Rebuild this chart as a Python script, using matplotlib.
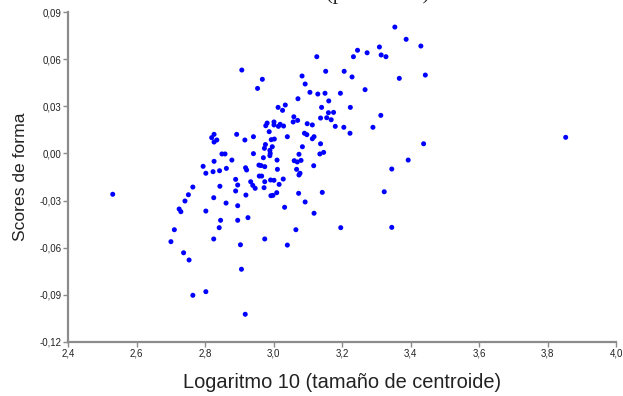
import matplotlib as mpl

mpl.use("Agg")
import matplotlib.pyplot as plt
from matplotlib.ticker import FuncFormatter

# log10 centroid size vs shape score
log_cs = [
    2.530, 2.907, 2.967, 2.953, 3.126, 3.245, 3.233, 3.206, 3.152, 3.083,
    3.229, 3.092, 3.106, 3.129, 3.150, 3.195, 3.071, 3.161, 3.013, 3.034,
    3.026, 3.140, 3.224, 3.160, 3.175, 3.059, 3.137, 3.155, 3.168, 3.070,
    3.057, 2.981, 2.977, 3.001, 3.001, 3.019, 3.014, 3.029, 3.098, 3.113,
    3.180, 3.205, 2.987, 3.090, 3.097, 3.223, 3.118, 3.113, 3.040, 2.993,
    3.002, 2.941, 2.916, 2.892, 2.826, 2.819, 2.834, 2.826, 2.976, 2.973,
    2.996, 2.989, 3.084, 3.137, 3.146, 3.135, 3.074, 2.990, 2.989, 2.941,
    2.849, 2.858, 2.878, 2.970, 3.010, 3.060, 3.069, 3.080, 2.826, 2.794,
    2.957, 2.963, 2.974, 2.918, 2.921, 2.862, 2.842, 2.823, 2.802, 3.011,
    3.067, 3.117, 3.077, 3.074, 2.958, 2.965, 2.889, 3.028, 2.991, 3.001,
    2.933, 2.974, 2.895, 2.843, 2.764, 2.939, 3.016, 2.946, 2.972, 2.889,
    2.751, 2.919, 2.992, 2.998, 3.009, 3.073, 3.142, 2.825, 2.741, 2.724,
    2.729, 2.710, 2.700, 2.737, 2.753, 2.764, 2.802, 2.802, 2.845, 2.841,
    2.825, 2.861, 2.895, 2.895, 2.925, 2.903, 2.906, 2.917, 2.974, 3.032,
    3.040, 3.065, 3.092, 3.118, 3.196, 3.345, 3.323, 3.345, 3.393, 3.354,
    3.387, 3.430, 3.309, 3.314, 3.328, 3.273, 3.443, 3.367, 3.267, 3.313,
    3.290, 3.853, 3.438,
]
shape_score = [
    -0.0260, 0.0532, 0.0473, 0.0415, 0.0617, 0.0658, 0.0617, 0.0524, 0.0524, 0.0494,
    0.0488, 0.0443, 0.0390, 0.0379, 0.0384, 0.0384, 0.0349, 0.0335, 0.0294, 0.0309,
    0.0275, 0.0294, 0.0294, 0.0260, 0.0262, 0.0234, 0.0226, 0.0228, 0.0215, 0.0211,
    0.0201, 0.0194, 0.0177, 0.0201, 0.0182, 0.0186, 0.0173, 0.0175, 0.0190, 0.0182,
    0.0173, 0.0167, 0.0139, 0.0129, 0.0120, 0.0129, 0.0107, 0.0094, 0.0107, 0.0088,
    0.0092, 0.0107, 0.0086, 0.0122, 0.0122, 0.0101, 0.0086, 0.0073, 0.0057, 0.0033,
    0.0043, 0.0020, 0.0043, 0.0062, 0.0007, -0.0003, -0.0005, 0.0001, -0.0014, -0.0001,
    -0.0003, -0.0003, -0.0042, -0.0027, -0.0042, -0.0046, -0.0054, -0.0044, -0.0050, -0.0082,
    -0.0074, -0.0077, -0.0084, -0.0091, -0.0105, -0.0095, -0.0110, -0.0116, -0.0126, -0.0101,
    -0.0101, -0.0078, -0.0126, -0.0137, -0.0144, -0.0144, -0.0165, -0.0163, -0.0169, -0.0171,
    -0.0180, -0.0180, -0.0201, -0.0209, -0.0214, -0.0203, -0.0197, -0.0222, -0.0218, -0.0239,
    -0.0263, -0.0265, -0.0269, -0.0267, -0.0250, -0.0254, -0.0248, -0.0282, -0.0303, -0.0354,
    -0.0371, -0.0486, -0.0562, -0.0633, -0.0679, -0.0904, -0.0881, -0.0367, -0.0426, -0.0473,
    -0.0545, -0.0316, -0.0333, -0.0426, -0.0409, -0.0582, -0.0738, -0.1025, -0.0545, -0.0343,
    -0.0584, -0.0486, -0.0309, -0.0381, -0.0473, -0.0471, -0.0244, -0.0099, -0.0042, 0.0806,
    0.0728, 0.0685, 0.0679, 0.0628, 0.0617, 0.0642, 0.0500, 0.0479, 0.0407, 0.0243,
    0.0167, 0.0103, 0.0062,
]

x_ticks = [2.4, 2.6, 2.8, 3.0, 3.2, 3.4, 3.6, 3.8, 4.0]
y_ticks = [-0.12, -0.09, -0.06, -0.03, 0.00, 0.03, 0.06, 0.09]

plt.rcParams["font.family"] = ["Liberation Sans", "DejaVu Sans"]
SPINE = "#8c8c8c"


def comma(nd):
    return FuncFormatter(lambda v, _=None: f"{v:.{nd}f}".replace(".", ","))


fig = plt.figure(figsize=(6.23, 3.96), dpi=100)
ax = fig.add_axes([0.1095, 0.1371, 0.8793, 0.8318])
ax.scatter(log_cs, shape_score, s=13, color="#0000ff", edgecolors="none", zorder=3)

ax.set_xlim(2.4, 4.0); ax.set_ylim(-0.12, 0.09)
ax.set_xticks(x_ticks); ax.set_yticks(y_ticks)
ax.xaxis.set_major_formatter(comma(1)); ax.yaxis.set_major_formatter(comma(2))
for s in ("top", "right"):
    ax.spines[s].set_visible(False)
for s in ("left", "bottom"):
    ax.spines[s].set_color(SPINE); ax.spines[s].set_linewidth(1.6)
ax.tick_params(direction="out", length=3.5, width=1.0, color=SPINE,
               labelsize=7, labelcolor="#222222", pad=1.5)

ax.set_xlabel("Logaritmo 10 (tamaño de centroide)", fontsize=14.4, color="#222222", labelpad=10)
ax.set_ylabel("Scores de forma", fontsize=12.6, color="#222222", labelpad=8)

# title is cut off by the top edge in the reference; only the descenders show
fig.text(378 / 623, 1 + 1.2 / 396, "(p < 0.0001)", ha="center", va="baseline",
         fontsize=15, family="Liberation Serif", color="#222222")

fig.savefig("out.png", dpi=100)
